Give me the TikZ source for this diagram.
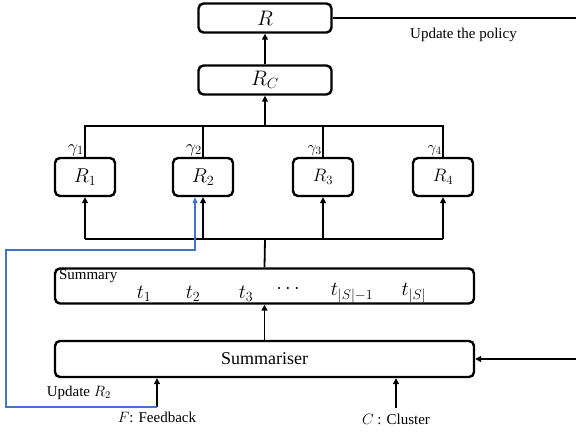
\documentclass[tikz,border=0pt]{standalone}
\usepackage{fix-cm}
\usepackage{fontspec}
\setmainfont{Liberation Serif}
\usepackage{tikz}
\usetikzlibrary{arrows.meta,positioning,calc}
\definecolor{updateblue}{RGB}{68,114,196}

\begin{document}
\begin{tikzpicture}[
  x=1pt, y=-1pt,
  box/.style={draw, line width=2.4pt, rounded corners=5pt, inner sep=0pt},
  bigbox/.style={box, minimum width=133pt, minimum height=29pt, font=\fontsize{21}{24}\selectfont},
  rbox/.style={box, minimum width=60pt, minimum height=38pt, font=\fontsize{20}{23}\selectfont},
  wide/.style={box, minimum width=419pt, minimum height=35pt},
  arr/.style={-{Triangle[length=6pt,width=6pt]}, line width=1.8pt},
  bus/.style={line width=1.8pt},
  blue arr/.style={-{Triangle[length=6pt,width=5pt]}, line width=1.2pt, draw=updateblue},
  weight/.style={font=\fontsize{18}{20}\selectfont, above left, inner sep=1pt},
  lbl/.style={font=\fontsize{15}{18}\selectfont, inner sep=0pt},
  tok/.style={font=\fontsize{20}{23}\selectfont, inner sep=0pt}
]
\useasboundingbox (0,0) rectangle (576,434);

% reward nodes
\node[bigbox] (R) at (265,18) {$R$};
\node[bigbox] (RC) at (265,80) {$R_C$};
\node[rbox] (R1) at (85,177) {$R_1$};
\node[rbox] (R2) at (203,177) {$R_2$};
\node[rbox, font=\fontsize{18}{21}\selectfont] (R3) at (323,177) {$R_3$};
\node[rbox, font=\fontsize{18}{21}\selectfont] (R4) at (443,177) {$R_4$};

% summary and summariser
\node[wide] (summary) at (264.5,286) {};
\node[wide, minimum height=36pt, font=\fontsize{18}{21}\selectfont] (summariser) at (264.5,359) {Summariser};
\node[lbl, anchor=north west] (sumlbl) at ([xshift=5pt,yshift=-2pt]summary.north west) {Summary};
\node[tok] (t1) at (144,294) {$t_1$};
\node[tok] (t2) at (193,294) {$t_2$};
\node[tok] (t3) at (246,294) {$t_3$};
\node[tok] (tdots) at (288,289) {$\cdots$};
\node[tok] (tSm) at (352,293) {$t_{|S|-1}$};
\node[tok] (tS) at (414,293) {$t_{|S|}$};

\coordinate (topbus) at (265,126);
\coordinate (botbus) at (265,239);
\coordinate (fb) at (157,407);
\coordinate (cl) at (396,408);
\coordinate (corner) at (590,18);

% weights into R_C
\draw[arr] (RC) -- (R);
\draw[arr] (topbus) -- (RC);
\draw[bus] (R1.north) -- (R1.north |- topbus) -- (R4.north |- topbus) -- (R4.north);
\draw[bus] (R2.north) -- (R2.north |- topbus);
\draw[bus] (R3.north) -- (R3.north |- topbus);
\node[weight] at (R1.north) {$\gamma_1$};
\node[weight] at (R2.north) {$\gamma_2$};
\node[weight, font=\fontsize{16}{18}\selectfont] at (R3.north) {$\gamma_3$};
\node[weight, font=\fontsize{16}{18}\selectfont] at (R4.north) {$\gamma_4$};

% summary to rewards
\draw[bus] (summary.north) -- (botbus);
\draw[bus] (R1.south |- botbus) -- (R4.south |- botbus);
\foreach \r in {R1,R2,R3,R4}
  \draw[arr] (\r.south |- botbus) -- (\r.south);
\draw[arr] (summariser) -- (summary);

% inputs
\draw[arr] (fb) -- (fb |- summariser.south);
\draw[arr] (cl) -- (cl |- summariser.south);
\node[lbl, below=5pt of fb] (fblbl) {$F$: Feedback};
\node[lbl, below=6pt of cl] (cllbl) {$C$ : Cluster};
\node[lbl, anchor=east] (updR2) at (111,393) {Update $R_2$};

% feedback loop to R_2
\draw[blue arr] (fb) -- (6,407) -- (6,250) -- (195,250) -- ([xshift=-8pt]R2.south);

% policy update loop
\draw[arr] (R.east) -- (corner) |- (summariser.east);
\node[lbl, anchor=north east] (policy) at (517,28) {Update the policy};
\end{tikzpicture}
\end{document}
